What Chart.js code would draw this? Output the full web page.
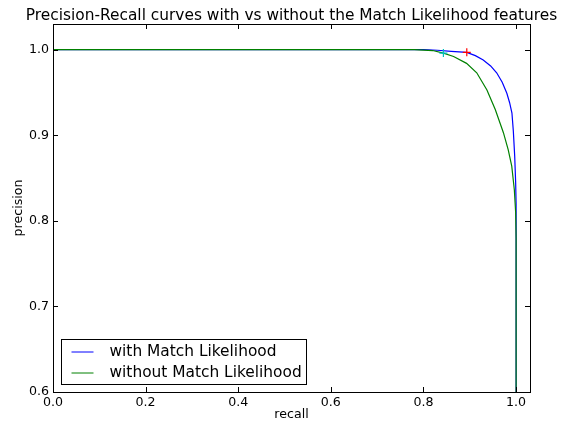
<!DOCTYPE html>
<html>
<head>
<meta charset="utf-8">
<script src="https://cdn.jsdelivr.net/npm/chart.js@4"></script>
<style>
  html, body { margin: 0; padding: 0; background: #fff; }
  canvas { display: block; }
</style>
</head>
<body>
<canvas id="c" width="566" height="423"></canvas>
<script>
// ---- data ----
const titleText = "Precision-Recall curves with vs without the Match Likelihood features";
const xLabel = "recall";
const yLabel = "precision";
const xTickValues = [0.0, 0.2, 0.4, 0.6, 0.8, 1.0];
const yTickValues = [0.6, 0.7, 0.8, 0.9, 1.0];

const withLabel = "with Match Likelihood";
const recallWith    = [0, 0.80, 0.83, 0.86, 0.8935, 0.912, 0.929, 0.945, 0.958, 0.970, 0.980, 0.986, 0.991, 0.994, 0.997, 0.999, 1.0, 1.0];
const precisionWith = [1.0, 1.0, 0.9993, 0.998, 0.9969, 0.993, 0.988, 0.981, 0.973, 0.962, 0.949, 0.938, 0.926, 0.905, 0.875, 0.845, 0.82, 0.6];

const withoutLabel = "without Match Likelihood";
const recallWithout    = [0, 0.78, 0.80, 0.82, 0.843, 0.865, 0.893, 0.915, 0.937, 0.955, 0.9726, 0.983, 0.9906, 0.9962, 0.999, 1.0, 1.0];
const precisionWithout = [1.0, 1.0, 0.9995, 0.999, 0.996, 0.992, 0.984, 0.973, 0.953, 0.930, 0.903, 0.883, 0.864, 0.836, 0.81, 0.78, 0.6];

const markerWithRecall = [0.8935];
const markerWithPrecision = [0.9969];
const markerWithoutRecall = [0.843];
const markerWithoutPrecision = [0.996];

const toXY = (xs, ys) => xs.map((x, i) => ({x: x, y: ys[i]}));
const FONT = "'DejaVu Sans', sans-serif";
const LABEL_SIZE = 12.6;
const BIG_SIZE = 15.4;

// frame + inward ticks, matplotlib style
const framePlugin = {
  id: 'frame',
  afterDatasetsDraw(chart) {
    const {ctx, chartArea: a, scales} = chart;
    ctx.save();
    ctx.strokeStyle = '#000';
    ctx.lineWidth = 1;
    ctx.strokeRect(Math.round(a.left) + 0.5, Math.round(a.top) + 0.5,
                   Math.round(a.right - a.left), Math.round(a.bottom - a.top));
    const L = 5;
    ctx.beginPath();
    scales.x.ticks.forEach(t => {
      const px = Math.round(scales.x.getPixelForValue(t.value)) + 0.5;
      ctx.moveTo(px, a.bottom); ctx.lineTo(px, a.bottom - L);
      ctx.moveTo(px, a.top); ctx.lineTo(px, a.top + L);
    });
    scales.y.ticks.forEach(t => {
      const py = Math.round(scales.y.getPixelForValue(t.value)) + 0.5;
      ctx.moveTo(a.left, py); ctx.lineTo(a.left + L, py);
      ctx.moveTo(a.right, py); ctx.lineTo(a.right - L, py);
    });
    ctx.stroke();
    ctx.restore();
  }
};

// title centred on the axes
const titlePlugin = {
  id: 'axTitle',
  afterDraw(chart) {
    const {ctx, chartArea: a} = chart;
    ctx.save();
    ctx.fillStyle = '#000';
    ctx.font = BIG_SIZE + "px " + FONT;
    ctx.textAlign = 'center';
    ctx.textBaseline = 'alphabetic';
    ctx.fillText(titleText, (a.left + a.right) / 2, 19.5);
    ctx.restore();
  }
};

// legend inside the axes, lower left
const legendPlugin = {
  id: 'inLegend',
  afterDraw(chart) {
    const {ctx, chartArea: a} = chart;
    const items = chart.data.datasets.filter(d => d.inLegend);
    const x0 = a.left + 8.5, y0 = 339.5, w = 245, h = 45;
    ctx.save();
    ctx.fillStyle = '#fff';
    ctx.fillRect(x0, y0, w, h);
    ctx.strokeStyle = '#000';
    ctx.lineWidth = 1;
    ctx.strokeRect(x0, y0, w, h);
    ctx.font = BIG_SIZE + "px " + FONT;
    ctx.textBaseline = 'middle';
    ctx.textAlign = 'left';
    items.forEach((d, i) => {
      const yy = y0 + 12.5 + i * 21;
      ctx.strokeStyle = d.borderColor;
      ctx.beginPath();
      ctx.moveTo(x0 + 10, yy); ctx.lineTo(x0 + 32, yy);
      ctx.stroke();
      ctx.fillStyle = '#000';
      ctx.fillText(d.label, x0 + 48, yy);
    });
    ctx.restore();
  }
};

new Chart(document.getElementById('c'), {
  type: 'scatter',
  data: {
    datasets: [
      { label: withLabel, inLegend: true, order: 3, data: toXY(recallWith, precisionWith), showLine: true,
        borderColor: '#0000ff', borderWidth: 1.2, pointRadius: 0, tension: 0, fill: false },
      { label: withoutLabel, inLegend: true, order: 2, data: toXY(recallWithout, precisionWithout), showLine: true,
        borderColor: '#008000', borderWidth: 1.2, pointRadius: 0, tension: 0, fill: false },
      { label: 'marker with', order: 1, data: toXY(markerWithRecall, markerWithPrecision), showLine: false,
        pointStyle: 'cross', pointRadius: 4, borderColor: '#ff0000', borderWidth: 1.2 },
      { label: 'marker without', order: 0, data: toXY(markerWithoutRecall, markerWithoutPrecision), showLine: false,
        pointStyle: 'cross', pointRadius: 4, borderColor: '#00bfbf', borderWidth: 1.2 }
    ]
  },
  options: {
    responsive: false,
    devicePixelRatio: 1,
    animation: false,
    layout: { padding: { top: 24, right: 36, bottom: 0, left: 0 } },
    plugins: { legend: { display: false }, title: { display: false }, tooltip: { enabled: false } },
    scales: {
      x: {
        type: 'linear', min: 0, max: 1.03,
        afterBuildTicks: s => { s.ticks = xTickValues.map(v => ({value: v})); },
        afterFit: s => { s.height = 31; },
        grid: { display: false, drawTicks: false },
        border: { display: false },
        ticks: { padding: 3, color: '#000', font: { family: FONT, size: LABEL_SIZE }, maxRotation: 0,
                 callback: v => Number(v).toFixed(1) },
        title: { display: true, text: xLabel, color: '#000', font: { family: FONT, size: LABEL_SIZE },
                 padding: { top: 0, bottom: 1 } }
      },
      y: {
        type: 'linear', min: 0.6, max: 1.03,
        afterBuildTicks: s => { s.ticks = yTickValues.map(v => ({value: v})); },
        afterFit: s => { s.width = 53; },
        grid: { display: false, drawTicks: false },
        border: { display: false },
        ticks: { padding: 4, color: '#000', font: { family: FONT, size: LABEL_SIZE },
                 callback: v => Number(v).toFixed(1) },
        title: { display: true, text: yLabel, color: '#000', font: { family: FONT, size: LABEL_SIZE },
                 padding: { top: 11, bottom: 0 } }
      }
    }
  },
  plugins: [framePlugin, titlePlugin, legendPlugin]
});
</script>
</body>
</html>
